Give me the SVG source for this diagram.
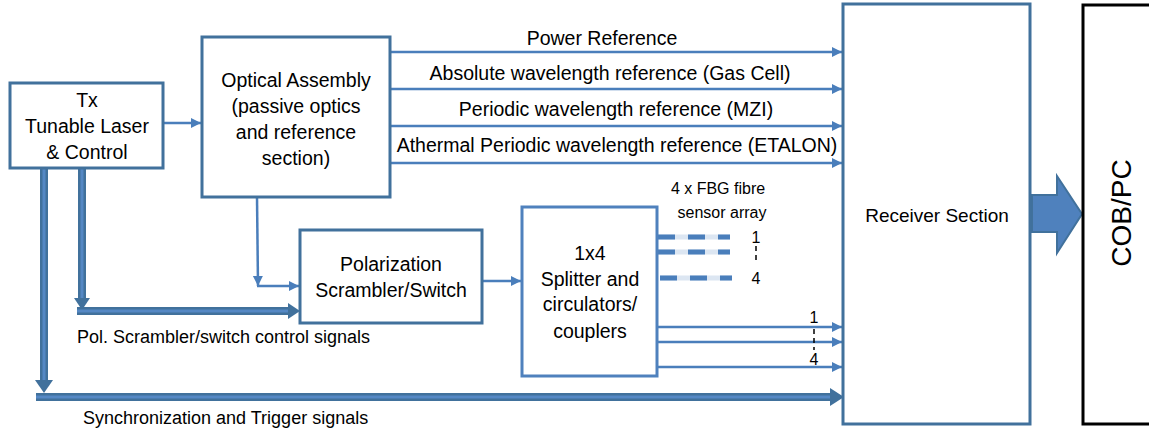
<svg xmlns="http://www.w3.org/2000/svg" width="1149" height="429" viewBox="0 0 1149 429">
<style>
text{font-family:"Liberation Sans",Arial,sans-serif;fill:#000;}
.t18{font-size:19.5px;text-anchor:middle;}
.t15{font-size:16px;text-anchor:middle;}
.t17{font-size:18px;}
.box{fill:#fff;stroke:#41719c;stroke-width:3;}
.box2{fill:#fff;stroke:#4f81bd;stroke-width:3;}
.thin{fill:none;stroke:#4a7ebb;stroke-width:2.5;}
.thickO{fill:none;stroke:#41719c;stroke-width:8;}
.thickI{fill:none;stroke:#5588c4;stroke-width:3;}
.dashD{fill:none;stroke:#4a7ebb;stroke-width:5;stroke-dasharray:17 13;}
.dashL{fill:none;stroke:#dce6f2;stroke-width:5;}
.bdash{fill:none;stroke:#000;stroke-width:1.5;stroke-dasharray:5 4;}
</style>
<defs>
<marker id="ah" markerUnits="userSpaceOnUse" markerWidth="12" markerHeight="12" refX="10" refY="5" orient="auto">
<path d="M0,0 L10,5 L0,10 Z" fill="#4a7ebb"/>
</marker>
</defs>

<g id="connectors">
<line class="thin" x1="163" y1="123" x2="201" y2="123" marker-end="url(#ah)"/>
<line class="thin" x1="390" y1="52" x2="842" y2="52" marker-end="url(#ah)"/>
<line class="thin" x1="390" y1="89" x2="842" y2="89" marker-end="url(#ah)"/>
<line class="thin" x1="390" y1="126" x2="842" y2="126" marker-end="url(#ah)"/>
<line class="thin" x1="390" y1="163" x2="842" y2="163" marker-end="url(#ah)"/>
<line class="thin" x1="257" y1="197" x2="258" y2="286" marker-end="url(#ah)"/>
<line class="thin" x1="257" y1="286" x2="299" y2="286" marker-end="url(#ah)"/>
<line class="thin" x1="482" y1="281" x2="521" y2="281" marker-end="url(#ah)"/>
<line class="thin" x1="658" y1="327" x2="842" y2="327" marker-end="url(#ah)"/>
<line class="thin" x1="658" y1="342" x2="842" y2="342" marker-end="url(#ah)"/>
<line class="thin" x1="658" y1="367" x2="842" y2="367" marker-end="url(#ah)"/>
<line class="dashL" x1="658" y1="237" x2="730" y2="237"/>
<line class="dashD" x1="658" y1="237" x2="730" y2="237"/>
<line class="dashL" x1="658" y1="252" x2="730" y2="252"/>
<line class="dashD" x1="658" y1="252" x2="730" y2="252"/>
<line class="dashL" x1="660" y1="278" x2="732" y2="278"/>
<line class="dashD" x1="660" y1="278" x2="732" y2="278"/>
<line class="bdash" x1="756" y1="246" x2="756" y2="263"/>
<line class="bdash" x1="814" y1="329" x2="814" y2="350"/>
<path class="thickO" d="M82,168 V298"/>
<path class="thickI" d="M82,168 V298"/>
<path d="M74,298 L90,298 L82,310 Z" fill="#41719c"/>
<path class="thickO" d="M77,311 H290"/>
<path class="thickI" d="M77,311 H290"/>
<path d="M288,303 L300,311 L288,319 Z" fill="#41719c"/>
<path class="thickO" d="M44,168 V380"/>
<path class="thickI" d="M44,168 V380"/>
<path d="M35,380 L53,380 L44,393 Z" fill="#41719c"/>
<path class="thickO" d="M36,397 H832"/>
<path class="thickI" d="M36,397 H832"/>
<path d="M830,388 L844,397 L830,406 Z" fill="#41719c"/>
<path d="M1032,195 H1057 V176 L1082,214 L1057,253 V232 H1032 Z" fill="#4f81bd" stroke="#41719c" stroke-width="2"/>
</g>

<g id="tx">
<rect class="box" x="10" y="83" width="153" height="85"/>
<text class="t18" x="87" y="107">Tx</text>
<text class="t18" x="87" y="133">Tunable Laser</text>
<text class="t18" x="87" y="159">&amp; Control</text>
</g>

<g id="optical">
<rect class="box" x="202" y="37" width="188" height="160"/>
<text class="t18" x="296" y="87">Optical Assembly</text>
<text class="t18" x="296" y="113">(passive optics</text>
<text class="t18" x="296" y="139">and reference</text>
<text class="t18" x="296" y="165">section)</text>
</g>

<g id="labels">
<text class="t18" x="602" y="45">Power Reference</text>
<text class="t18" x="610" y="80">Absolute wavelength reference (Gas Cell)</text>
<text class="t18" x="616" y="116">Periodic wavelength reference (MZI)</text>
<text class="t18" x="617" y="152">Athermal Periodic wavelength reference (ETALON)</text>
<text class="t17" x="77" y="343">Pol. Scrambler/switch control signals</text>
<text class="t17" x="83" y="424">Synchronization and Trigger signals</text>
<text class="t15" x="718" y="194">4 x FBG fibre</text>
<text class="t15" x="722" y="218">sensor array</text>
<text class="t15" x="756" y="243">1</text>
<text class="t15" x="756" y="284">4</text>
<text class="t15" x="814" y="323">1</text>
<text class="t15" x="814" y="365">4</text>
</g>

<g id="polarization">
<rect class="box" x="300" y="230" width="182" height="93"/>
<text class="t18" x="391" y="271">Polarization</text>
<text class="t18" x="391" y="297">Scrambler/Switch</text>
</g>

<g id="splitter">
<rect class="box2" x="522" y="207" width="135" height="169"/>
<text class="t18" x="590" y="260">1x4</text>
<text class="t18" x="590" y="286">Splitter and</text>
<text class="t18" x="590" y="311">circulators/</text>
<text class="t18" x="590" y="338">couplers</text>
</g>

<g id="receiver">
<rect class="box" x="843" y="4" width="187" height="420"/>
<text class="t18" x="937" y="222" style="font-size:19px">Receiver Section</text>
</g>

<g id="cobpc">
<rect x="1083" y="5" width="80" height="419" fill="#fff" stroke="#000" stroke-width="3"/>
<text x="0" y="0" transform="translate(1131,213) rotate(-90)" style="font-size:28px;text-anchor:middle">COB/PC</text>
</g>
</svg>
